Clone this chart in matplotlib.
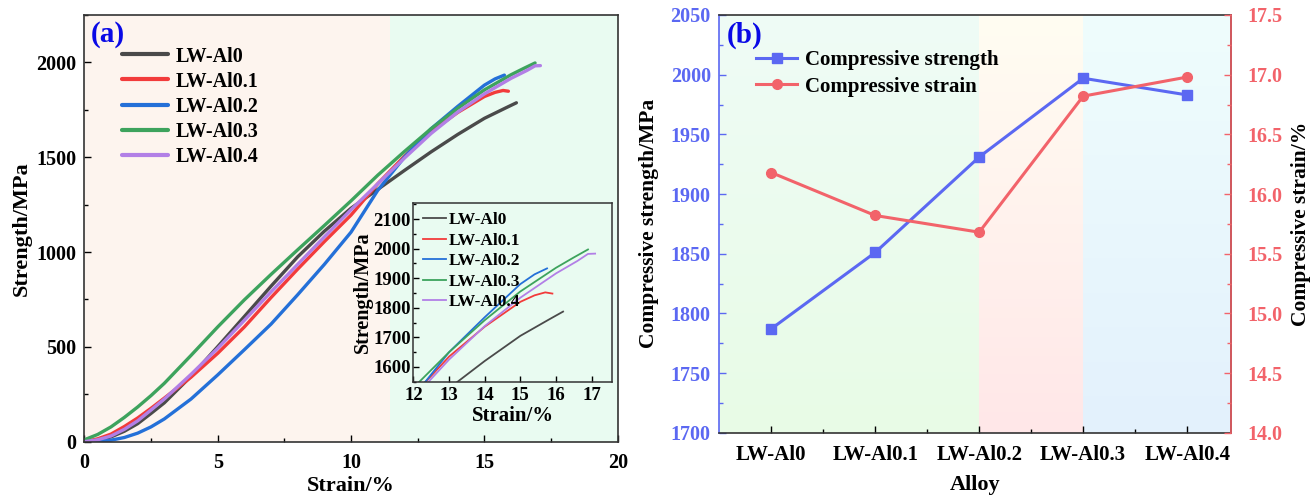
import numpy as np
import matplotlib
matplotlib.use("Agg")
import matplotlib.pyplot as plt
from matplotlib.ticker import MultipleLocator, FormatStrFormatter

plt.rcParams['font.family'] = ['Liberation Serif', 'DejaVu Serif']
plt.rcParams['font.weight'] = 'bold'
plt.rcParams['axes.labelweight'] = 'bold'
plt.rcParams['xtick.direction'] = 'in'
plt.rcParams['ytick.direction'] = 'in'

# ---- panel (a): stress-strain curves ----
labels_a = ["LW-Al0", "LW-Al0.1", "LW-Al0.2", "LW-Al0.3", "LW-Al0.4"]
colors_a = ["#4a4a4a", "#f23b3b", "#2470d8", "#3da35d", "#b27fe6"]

strain_al0 = [0, 0.5, 1, 1.5, 2, 2.5, 3, 4, 5, 6, 7, 8, 9, 10, 11, 12, 13, 14, 15, 15.8, 16.2]
stress_al0 = [0, 8, 25, 55, 95, 149, 205, 345, 501, 660, 820, 975, 1110, 1231, 1330, 1430, 1528, 1620, 1705, 1760, 1787]

strain_al01 = [0, 0.5, 1, 1.5, 2, 2.5, 3, 4, 5, 6, 7, 8, 9, 10, 11, 12, 13, 14, 15, 15.4, 15.7, 15.9]
stress_al01 = [0, 15, 40, 80, 125, 176, 230, 340, 466, 605, 760, 910, 1055, 1195, 1360, 1505, 1635, 1736, 1820, 1842, 1852, 1848]

strain_al02 = [0, 0.5, 1, 1.5, 2, 2.5, 3, 4, 5, 6, 7, 8, 9, 10, 11, 12, 13, 14, 15, 15.4, 15.75]
stress_al02 = [0, 2, 8, 22, 45, 78, 120, 225, 352, 485, 620, 775, 935, 1105, 1325, 1500, 1650, 1768, 1880, 1913, 1933]

strain_al03 = [0, 0.5, 1, 1.5, 2, 2.5, 3, 4, 5, 6, 7, 8, 9, 10, 11, 12, 13, 14, 15, 16, 16.5, 16.9]
stress_al03 = [10, 38, 78, 128, 183, 243, 308, 455, 605, 748, 882, 1012, 1140, 1270, 1405, 1530, 1650, 1758, 1855, 1935, 1970, 1997]

strain_al04 = [0, 0.5, 1, 1.5, 2, 2.5, 3, 4, 5, 6, 7, 8, 9, 10, 11, 12, 13, 14, 15, 16, 16.6, 16.9, 17.1]
stress_al04 = [0, 10, 30, 65, 110, 167, 225, 355, 492, 640, 790, 935, 1080, 1223, 1360, 1495, 1625, 1738, 1834, 1916, 1958, 1982, 1983]

strains = [strain_al0, strain_al01, strain_al02, strain_al03, strain_al04]
stresses = [stress_al0, stress_al01, stress_al02, stress_al03, stress_al04]

# ---- panel (b): summary ----
alloys = ["LW-Al0", "LW-Al0.1", "LW-Al0.2", "LW-Al0.3", "LW-Al0.4"]
comp_strength = [1787, 1851, 1931, 1997, 1983]
comp_strain = [16.18, 15.82, 15.68, 16.82, 16.98]

fig = plt.figure(figsize=(13.16, 4.98), dpi=100)

# ------------------------------------------------------------------
# (a)
# ------------------------------------------------------------------
ax = fig.add_axes([0.0641, 0.1131, 0.4053, 0.8568])
ax.axvspan(0, 11.45, color="#fdf4ee", zorder=0, lw=0)
ax.axvspan(11.45, 20, color="#e9fbf1", zorder=0, lw=0)
for x, y, c, lab in zip(strains, stresses, colors_a, labels_a):
    ax.plot(x, y, color=c, lw=2.4, label=lab, solid_capstyle='round')
ax.set_xlim(0, 20)
ax.set_ylim(0, 2250)
ax.xaxis.set_major_locator(MultipleLocator(5))
ax.xaxis.set_minor_locator(MultipleLocator(2.5))
ax.yaxis.set_major_locator(MultipleLocator(500))
ax.yaxis.set_minor_locator(MultipleLocator(250))
ax.tick_params(which='major', length=5, width=1, labelsize=14.5)
ax.tick_params(axis='x', which='major', pad=8)
ax.tick_params(axis='y', which='major', pad=6)
ax.tick_params(which='minor', length=3, width=1)
for s in ax.spines.values():
    s.set_color("#333333")
    s.set_linewidth(1.2)
ax.set_xlabel("Strain/%", fontsize=16, labelpad=2)
ax.set_ylabel("Strength/MPa", fontsize=16, labelpad=3)
ax.text(0.012, 0.985, "(a)", transform=ax.transAxes, color="#0a0ae6",
        fontsize=21, fontweight='bold', va='top', ha='left')
leg = ax.legend(loc='upper left', bbox_to_anchor=(0.055, 0.945), frameon=False,
                fontsize=14.5, handlelength=2.3, handletextpad=0.4,
                labelspacing=0.25, borderaxespad=0)
for h in leg.get_lines():
    h.set_linewidth(3)

# inset
ins = fig.add_axes([0.3142, 0.2335, 0.1510, 0.3594])
ins.set_facecolor("#e9fbf1")
for x, y, c, lab in zip(strains, stresses, colors_a, labels_a):
    ins.plot(x, y, color=c, lw=1.3, label=lab)
ins.set_xlim(12, 17.58)
ins.set_ylim(1550, 2155)
ins.xaxis.set_major_locator(MultipleLocator(1))
ins.yaxis.set_major_locator(MultipleLocator(100))
ins.yaxis.set_minor_locator(MultipleLocator(50))
ins.tick_params(which='major', length=4, width=1, labelsize=13.5, pad=2)
ins.tick_params(axis='x', which='major', pad=4)
ins.tick_params(which='minor', length=2, width=1)
for s in ins.spines.values():
    s.set_color("#333333")
    s.set_linewidth(1.1)
ins.set_xlabel("Strain/%", fontsize=15, labelpad=1)
ins.set_ylabel("Strength/MPa", fontsize=14.5, labelpad=0)
ins.legend(loc='upper left', frameon=False, fontsize=12.5, handlelength=1.3,
           handletextpad=0.2, labelspacing=0.25, borderaxespad=0.15)

# ------------------------------------------------------------------
# (b)
# ------------------------------------------------------------------
blue = "#5b68f2"
red = "#f2636a"
bx = fig.add_axes([0.5465, 0.1311, 0.3888, 0.8388])
xpos = np.arange(len(alloys))
xl, xr = -0.5, 4.42
yb, yt = 1700, 2050


def grad(ax, x0, x1, top, bot):
    t = np.array(matplotlib.colors.to_rgb(top))
    b = np.array(matplotlib.colors.to_rgb(bot))
    f = np.linspace(0, 1, 100)[:, None]
    img = (t * (1 - f) + b * f)[:, None, :]
    ax.imshow(img, extent=[x0, x1, yb, yt], aspect='auto', zorder=0,
              interpolation='bilinear')


grad(bx, xl, 2, "#effcf6", "#e8fbe6")
grad(bx, 2, 3, "#fffdf2", "#ffe7e8")
grad(bx, 3, xr, "#effdfd", "#e3f1fc")

l1, = bx.plot(xpos, comp_strength, color=blue, lw=2.2, marker='s', ms=7,
              label="Compressive strength", zorder=3)
bx.set_xlim(xl, xr)
bx.set_ylim(yb, yt)
bx.set_xticks(xpos)
bx.set_xticklabels(alloys)
bx.set_xticks(xpos[:-1] + 0.5, minor=True)
bx.yaxis.set_major_locator(MultipleLocator(50))
bx.yaxis.set_minor_locator(MultipleLocator(25))
bx.tick_params(axis='x', which='major', length=5, width=1, labelsize=15, pad=9)
bx.tick_params(axis='x', which='minor', length=3, width=1)
bx.tick_params(axis='y', which='major', length=5, width=1, labelsize=14.5,
               colors=blue, pad=6)
bx.tick_params(axis='y', which='minor', length=3, width=1, colors=blue)
bx.spines['left'].set_color(blue)
bx.spines['top'].set_color("#333333")
bx.spines['bottom'].set_color("#333333")
for s in bx.spines.values():
    s.set_linewidth(1.2)
bx.set_xlabel("Alloy", fontsize=16, labelpad=7)
bx.set_ylabel("Compressive strength/MPa", fontsize=15.5, labelpad=8)

rx = bx.twinx()
l2, = rx.plot(xpos, comp_strain, color=red, lw=2.2, marker='o', ms=7,
              label="Compressive strain", zorder=3)
rx.set_ylim(14.0, 17.5)
rx.yaxis.set_major_locator(MultipleLocator(0.5))
rx.yaxis.set_minor_locator(MultipleLocator(0.25))
rx.yaxis.set_major_formatter(FormatStrFormatter('%.1f'))
rx.tick_params(axis='y', which='major', length=5, width=1, labelsize=14.5,
               colors=red, pad=12)
rx.tick_params(axis='y', which='minor', length=3, width=1, colors=red)
rx.spines['right'].set_color(red)
rx.spines['left'].set_visible(False)
rx.spines['top'].set_visible(False)
rx.spines['bottom'].set_visible(False)
rx.spines['right'].set_linewidth(1.2)
rx.set_ylabel("Compressive strain/%", fontsize=15.5, labelpad=6)

bx.text(0.015, 0.985, "(b)", transform=bx.transAxes, color="#0a0ae6",
        fontsize=21, fontweight='bold', va='top', ha='left', zorder=5)
rx.legend([l1, l2], [l1.get_label(), l2.get_label()], loc='upper left',
          bbox_to_anchor=(0.055, 0.935), frameon=False, fontsize=15,
          handlelength=2.0, handletextpad=0.35, labelspacing=0.3,
          borderaxespad=0)

fig.savefig("out.png", dpi=100)
